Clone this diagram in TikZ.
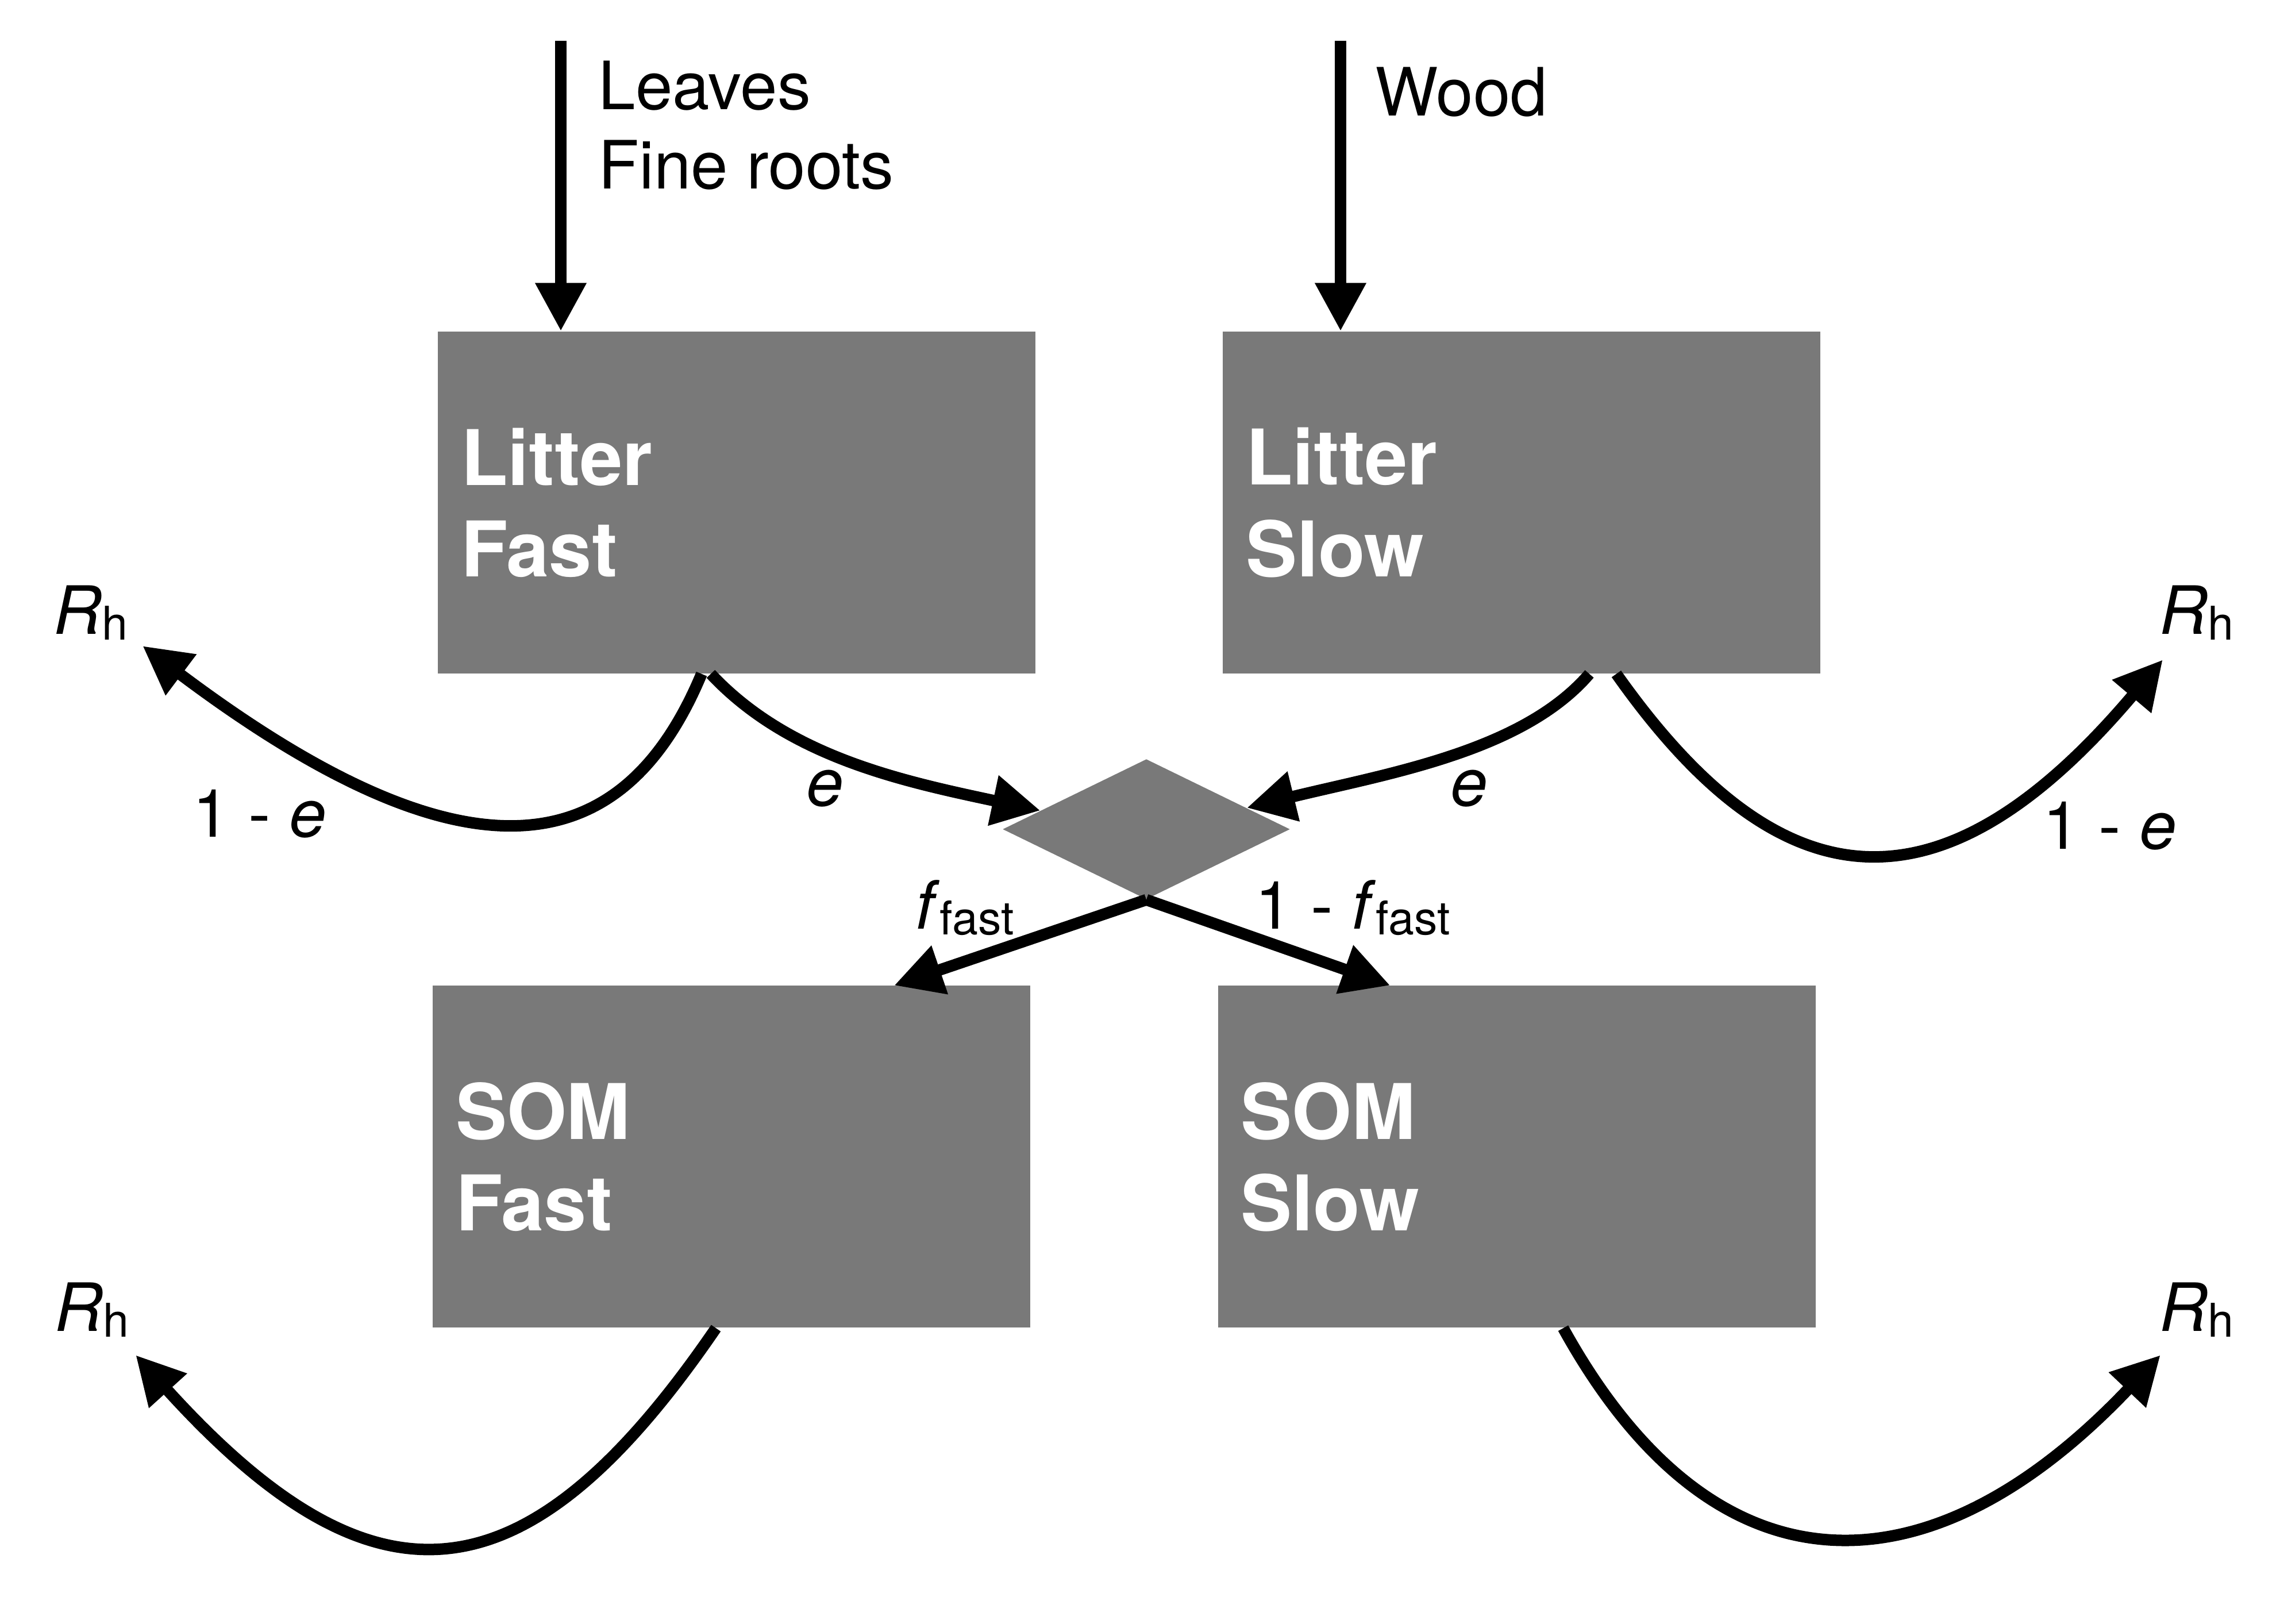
\documentclass[tikz,border=0pt]{standalone}
\usepackage{fontspec}
\setmainfont{TeX Gyre Heros}
\usetikzlibrary{arrows.meta,shapes.geometric}
\definecolor{poolgray}{RGB}{121,121,121}
\newcommand{\subtxt}[1]{\raisebox{-0.08em}{\fontsize{23}{23}\selectfont #1}}
\begin{document}
\begin{tikzpicture}[
    pool/.style={fill=poolgray, text=white, minimum height=5.95cm, inner xsep=0.4cm,
      text width=9.6cm, align=left, font=\fontsize{38}{45.3}\selectfont\bfseries},
    lbl/.style={inner sep=0, font=\fontsize{33}{39.5}\selectfont},
    flux/.style={line width=0.2cm, -{Triangle[length=0.84cm,width=0.84cm]}}
  ]
  \useasboundingbox (0,0) rectangle (39.68,28.25);
  \node[pool] (lf) at (12.82,19.505) {Litter\\Fast};
  \node[pool] (ls) at (26.48,19.505) {Litter\\Slow};
  \node[pool] (sf) at (12.73,8.12) {SOM\\Fast};
  \node[pool] (ss) at (26.395,8.12) {SOM\\Slow};
  \node[diamond, fill=poolgray, inner sep=0, minimum width=5cm, minimum height=2.44cm] (dm) at (19.95,13.82) {};

  \node[lbl, anchor=base west, align=left] (leaves) at (10.41,24.96) {Leaves\\Fine roots};
  \node[lbl, anchor=base west] (wood) at (23.93,26.23) {Wood};
  \coordinate (leavesin) at (9.76,27.54);
  \coordinate (woodin) at (23.33,27.54);
  \draw[flux] (leavesin) -- (leavesin |- lf.north);
  \draw[flux] (woodin) -- (woodin |- ls.north);

  \node[lbl, anchor=base west] (rh1) at (0.93,17.21) {\textit{R}\subtxt{h}};
  \node[lbl, anchor=base west] (rh2) at (37.58,17.21) {\textit{R}\subtxt{h}};
  \node[lbl, anchor=base west] (rh3) at (0.95,5.08) {\textit{R}\subtxt{h}};
  \node[lbl, anchor=base west] (rh4) at (37.58,5.08) {\textit{R}\subtxt{h}};

  \draw[flux] ([xshift=-0.61cm]lf.south) .. controls (10.86,13.29) and (8.20,12.71) .. ([shift={(0.25,-0.1)}]rh1.south east);
  \draw[flux] ([xshift=-0.45cm]lf.south) .. controls (13.72,15.08) and (15.69,14.66) .. (dm.170);
  \draw[flux] ([xshift=1.18cm]ls.south) .. controls (26.50,15.17) and (24.15,14.79) .. (dm.12);
  \draw[flux] ([xshift=1.65cm]ls.south) .. controls (30.94,12.54) and (33.73,12.15) .. ([shift={(0.06,-0.34)}]rh2.south west);
  \draw[flux] (dm.south) -- ([xshift=2.83cm]sf.north);
  \draw[flux] (dm.south) -- ([xshift=-2.2cm]ss.north);
  \draw[flux] ([xshift=-0.27cm]sf.south) .. controls (9.15,0.3) and (6.5,0.1) .. ([shift={(0.11,-0.31)}]rh3.south east);
  \draw[flux] ([xshift=0.81cm]ss.south) .. controls (29.85,0.35) and (33.6,0.45) .. ([shift={(0.02,-0.31)}]rh4.south west);

  \node[lbl, anchor=base] (omel) at (4.52,13.68) {1 - \textit{e}};
  \node[lbl, anchor=base] (el) at (14.36,14.22) {\textit{e}};
  \node[lbl, anchor=base] (er) at (25.57,14.22) {\textit{e}};
  \node[lbl, anchor=base] (omer) at (36.72,13.47) {1 - \textit{e}};
  \node[lbl, anchor=base] (ffast) at (16.79,12.08) {\textit{f}\subtxt{fast}};
  \node[lbl, anchor=base] (omffast) at (23.54,12.08) {1 - \textit{f}\subtxt{fast}};
\end{tikzpicture}
\end{document}
